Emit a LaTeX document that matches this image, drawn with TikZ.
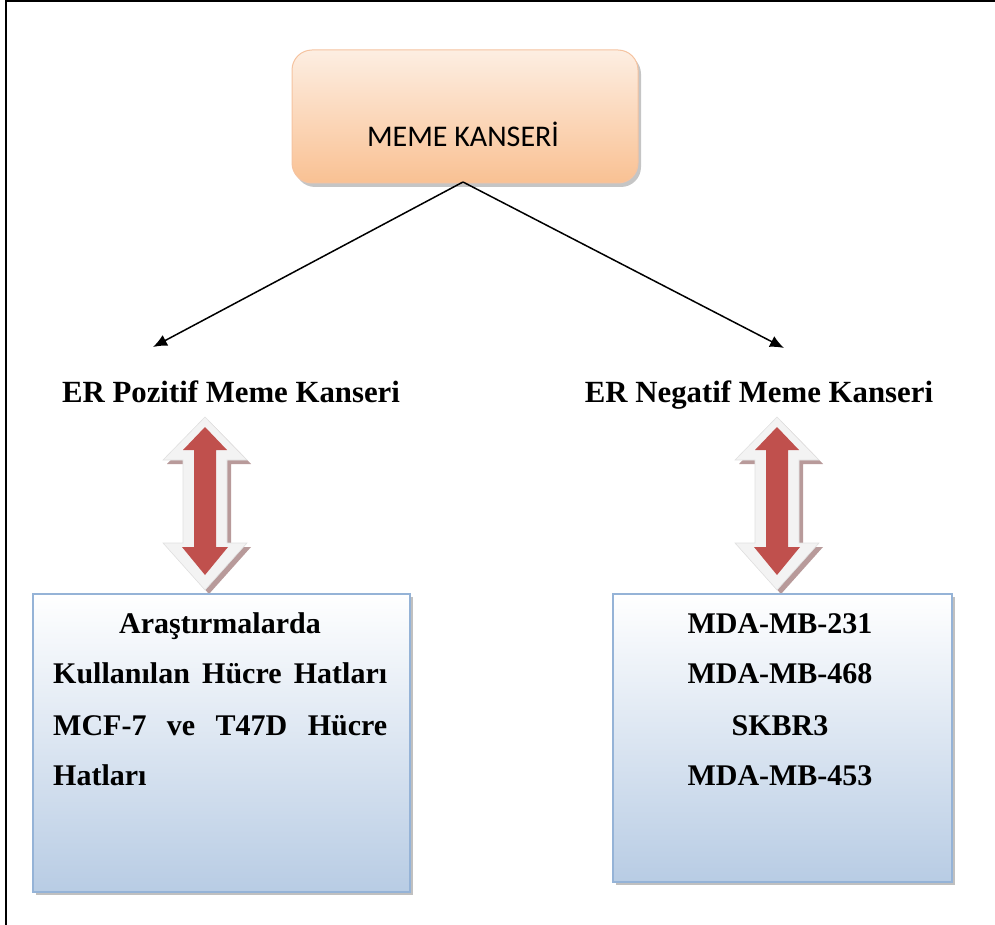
\documentclass[tikz,border=0pt]{standalone}
\usepackage{fontspec}
\setmainfont{Liberation Serif}
\newfontfamily\calibri{Carlito}
\usetikzlibrary{shadows,arrows.meta}
\definecolor{peachTop}{HTML}{FDEEE2}
\definecolor{peachBot}{HTML}{F9C193}
\definecolor{peachLine}{HTML}{F5C3A0}
\definecolor{blueBot}{HTML}{B8CCE4}
\definecolor{blueLine}{HTML}{95B3D7}
\definecolor{arrRed}{HTML}{C0504D}
\definecolor{arrShade}{HTML}{B89A9A}
\definecolor{arrBody}{HTML}{F3F3F3}
\tikzset{
  topbox/.style={draw=peachLine, line width=1pt, rounded corners=20pt,
    top color=peachTop, bottom color=peachBot, inner sep=0pt,
    drop shadow={shadow xshift=3pt, shadow yshift=-4pt, fill=black!45, opacity=.5}},
  bluebox/.style={draw=blueLine, line width=1.5pt, inner sep=0pt,
    top color=white, bottom color=blueBot,
    drop shadow={shadow xshift=3pt, shadow yshift=-3pt, fill=black!45, opacity=.55}},
  boldtxt/.style={font=\fontsize{30}{36}\selectfont\bfseries, inner sep=0pt},
  labeltxt/.style={font=\fontsize{30.8}{36}\selectfont\bfseries, inner sep=0pt},
  conn/.style={line width=1.5pt, -{Latex[length=14pt,width=12pt]}},
  dblarr/.pic={
    \begin{scope}[shift={(4,4)}]
      \fill[arrShade] (0,417) -- (42,460) -- (22,460) -- (22,543) -- (42,543) -- (0,590)
        -- (-42,543) -- (-22,543) -- (-22,460) -- (-42,460) -- cycle;
    \end{scope}
    \filldraw[fill=arrBody, draw=black!12, line width=0.6pt]
      (0,417) -- (42,460) -- (22,460) -- (22,543) -- (42,543) -- (0,590)
      -- (-42,543) -- (-22,543) -- (-22,460) -- (-42,460) -- cycle;
    \fill[arrRed] (0,427) -- (22,450) -- (11,450) -- (11,547) -- (23,547) -- (0,575)
      -- (-23,547) -- (-11,547) -- (-11,450) -- (-22,450) -- cycle;
  }
}
\begin{document}
\begin{tikzpicture}[x=1pt,y=-1pt]
\useasboundingbox (0,0) rectangle (995,925);
% frame
\draw[line width=2pt] (6,925) -- (6,1) -- (995,1);
% top box
\node[topbox, minimum width=346pt, minimum height=133pt] (top) at (465,116.5) {};
\node[anchor=base, inner sep=0pt, font=\calibri\fontsize{30}{34}\selectfont] (toptxt) at (463,147) {MEME KANSERİ};
% labels
\node[labeltxt, anchor=base] (erpos) at (231,402) {ER Pozitif Meme Kanseri};
\node[labeltxt, anchor=base] (erneg) at (759,402) {ER Negatif Meme Kanseri};
\coordinate (apex) at (463,182);
\coordinate (ltip) at (153,347);
\coordinate (rtip) at (784,348);
\draw[conn] (apex) -- (ltip);
\draw[conn] (apex) -- (rtip);
% double arrows
\pic at (205,0) {dblarr};
\pic at (777,0) {dblarr};
% bottom boxes
\node[bluebox, minimum width=377pt, minimum height=298pt] (lbox) at (221.5,743) {};
\node[bluebox, minimum width=339pt, minimum height=288pt] (rbox) at (782.5,738) {};
% left box text
\node[boldtxt, anchor=base] (l1) at (220,633) {Araştırmalarda};
\node[boldtxt, anchor=base west] (l2) at (53,683) {\makebox[334pt][s]{Kullanılan Hücre Hatları}};
\node[boldtxt, anchor=base west] (l3) at (53,735) {\makebox[334pt]{MCF-7\hfill ve\hfill T47D\hfill Hücre}};
\node[boldtxt, anchor=base west] (l4) at (53,785) {Hatları};
% right box text
\node[boldtxt, anchor=base] (r1) at (780,633) {MDA-MB-231};
\node[boldtxt, anchor=base] (r2) at (780,683) {MDA-MB-468};
\node[boldtxt, anchor=base] (r3) at (780,735) {SKBR3};
\node[boldtxt, anchor=base] (r4) at (780,785) {MDA-MB-453};
\end{tikzpicture}
\end{document}
